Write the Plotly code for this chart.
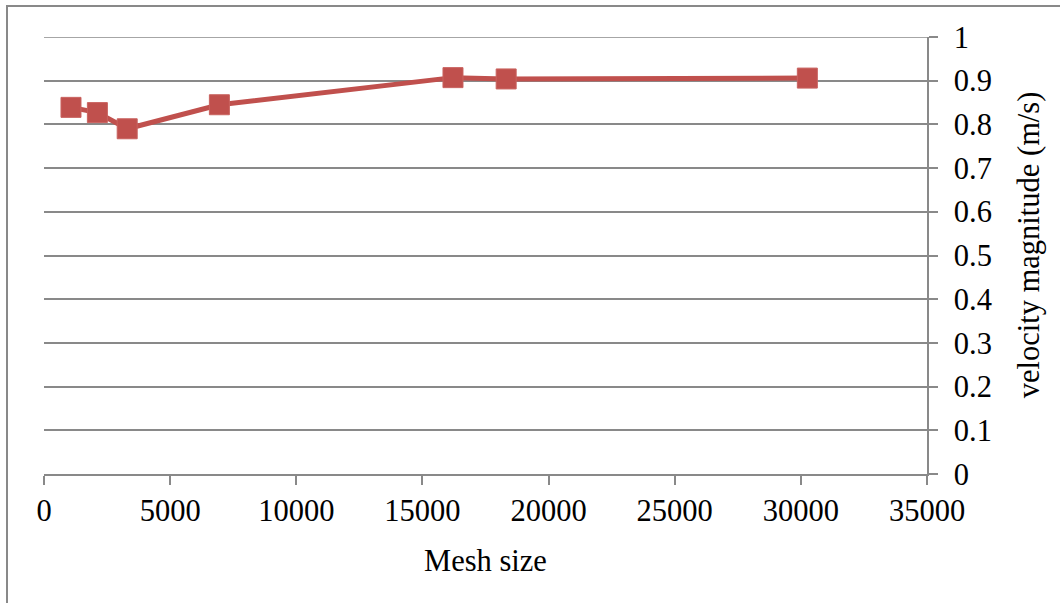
import plotly.graph_objects as go

mesh_size = [1070, 2116, 3298, 6952, 16211, 18319, 30257]
velocity = [0.839, 0.827, 0.790, 0.845, 0.907, 0.904, 0.906]

x_ticks = [0, 5000, 10000, 15000, 20000, 25000, 30000, 35000]
y_ticks = [0, 0.1, 0.2, 0.3, 0.4, 0.5, 0.6, 0.7, 0.8, 0.9, 1]

RED = "#C0504D"
GRAY = "#898989"
FONT = "Liberation Serif, Times New Roman, serif"
FS = 30.5

fig = go.Figure()
fig.add_trace(go.Scatter(
    x=mesh_size, y=velocity, mode="lines+markers",
    line=dict(color=RED, width=5),
    marker=dict(symbol="square", size=20, color=RED, line=dict(color="#C9625F", width=1)),
    showlegend=False,
))

fig.update_layout(
    width=1060, height=603,
    margin=dict(l=44, r=133, t=37, b=128.5, autoexpand=False),
    paper_bgcolor="white", plot_bgcolor="white",
    font=dict(family=FONT, size=FS, color="black"),
    xaxis=dict(
        range=[0, 35000], tickvals=x_ticks, ticktext=[str(v) for v in x_ticks],
        showgrid=False, zeroline=False, showline=True, linecolor=GRAY, linewidth=1.5,
        ticks="outside", ticklen=9, tickcolor=GRAY, tickwidth=1.5,
        tickfont=dict(size=FS),
        title=dict(text="Mesh size", font=dict(size=FS), standoff=22),
    ),
    yaxis=dict(
        range=[0, 1], side="right", tickvals=y_ticks,
        ticktext=[f"{v:g}" for v in y_ticks],
        showgrid=True, gridcolor=GRAY, gridwidth=1.5, zeroline=False,
        showline=True, linecolor=GRAY, linewidth=1.5,
        ticks="outside", ticklen=9, tickcolor=GRAY, tickwidth=1.5,
        tickfont=dict(size=FS), ticklabelstandoff=10,
    ),
    annotations=[dict(
        text="velocity magnitude (m/s)", textangle=-90,
        xref="paper", yref="paper",
        x=(1029 - 44) / 883, y=(474.5 - 245.5) / 437.5,
        xanchor="center", yanchor="middle", showarrow=False,
        font=dict(size=FS, family=FONT, color="black"),
    )],
    shapes=[
        dict(
            type="rect", xref="paper", yref="paper",
            x0=(7 - 44) / 883, x1=1.5, y0=-0.6, y1=(474.5 - 6) / 437.5,
            line=dict(color=GRAY, width=2), fillcolor="rgba(0,0,0,0)", layer="below",
        ),
        dict(
            type="line", xref="paper", yref="y", x0=0, x1=1, y0=y_ticks[-1], y1=y_ticks[-1],
            line=dict(color=GRAY, width=1.5), layer="below",
        ),
    ],
)

fig.write_html(
    "out.html",
    config={"displayModeBar": False},
    post_script="document.body.style.margin='0';document.body.style.overflow='hidden';",
)
